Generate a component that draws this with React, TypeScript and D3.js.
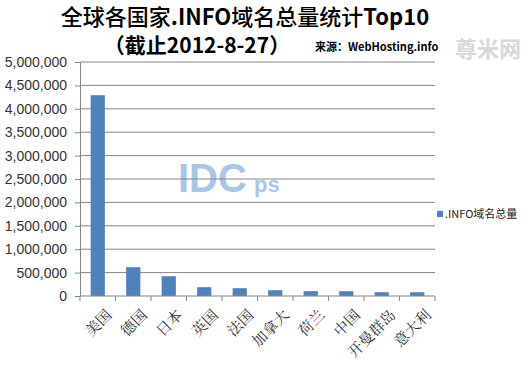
import React, { useEffect, useRef } from "react";
import * as d3 from "d3";

const countries = ["美国", "德国", "日本", "英国", "法国", "加拿大", "荷兰", "中国", "开曼群岛", "意大利"];
const totals = [4290000, 615000, 423000, 188000, 167000, 124000, 103000, 102000, 81000, 80000];
const yTicks = [0, 500000, 1000000, 1500000, 2000000, 2500000, 3000000, 3500000, 4000000, 4500000, 5000000];

export default function App() {
  const svgRef = useRef<SVGSVGElement>(null);

  useEffect(() => {
    if (!svgRef.current) return;
    const svg = d3.select(svgRef.current);
    svg.selectAll("*").remove();

    const left = 80;
    const right = 435;
    const top = 62;
    const bottom = 296;

    const x = d3.scaleBand().domain(countries).range([left, right]).paddingInner(0.6).paddingOuter(0.3);
    const band = d3.scaleBand().domain(countries).range([left, right]);
    const y = d3.scaleLinear().domain([0, 5000000]).range([bottom, top]);

    svg.append("rect").attr("width", 530).attr("height", 366).attr("fill", "#fff");

    // watermarks
    svg.append("text")
      .attr("x", 178).attr("y", 192)
      .attr("font-family", "Arial, Liberation Sans, sans-serif")
      .attr("font-size", 40).attr("font-weight", "bold")
      .attr("fill", "#a9c6e6")
      .text("IDC");
    svg.append("text")
      .attr("x", 254).attr("y", 192)
      .attr("font-family", "Arial, Liberation Sans, sans-serif")
      .attr("font-size", 22).attr("font-weight", "bold")
      .attr("fill", "#a9c6e6")
      .text("ps");
    svg.append("text")
      .attr("x", 455).attr("y", 57)
      .attr("font-family", "Noto Sans CJK SC, sans-serif")
      .attr("font-size", 22).attr("font-weight", "bold")
      .attr("fill", "#d8d8d8")
      .text("尊米网");

    // gridlines
    svg.append("g")
      .selectAll("line")
      .data(yTicks.slice(1))
      .join("line")
      .attr("x1", left).attr("x2", right)
      .attr("y1", (d) => y(d)).attr("y2", (d) => y(d))
      .attr("stroke", "#868686").attr("stroke-width", 1);

    // bars
    svg.append("g")
      .selectAll("rect")
      .data(totals)
      .join("rect")
      .attr("x", (_, i) => x(countries[i])!)
      .attr("width", x.bandwidth())
      .attr("y", (d) => y(d))
      .attr("height", (d) => bottom - y(d))
      .attr("fill", "#4f81bd");

    // y axis
    const yAxis = svg.append("g")
      .attr("transform", `translate(${left},0)`)
      .call(d3.axisLeft(y).tickValues(yTicks).tickSize(5).tickSizeOuter(0).tickFormat((d) => d3.format(",")(d as number)));
    yAxis.select(".domain").attr("stroke", "#868686");
    yAxis.selectAll(".tick line").attr("stroke", "#868686");
    yAxis.selectAll(".tick text")
      .attr("x", -13)
      .attr("font-family", "Arial, Liberation Sans, sans-serif")
      .attr("font-size", 14)
      .attr("fill", "#333");

    // x axis
    const xAxis = svg.append("g")
      .attr("transform", `translate(0,${bottom})`);
    xAxis.append("line")
      .attr("x1", left).attr("x2", right)
      .attr("stroke", "#868686");
    xAxis.selectAll("line.t")
      .data([...countries.map((c) => band(c)!), right])
      .join("line")
      .attr("class", "t")
      .attr("x1", (d) => d).attr("x2", (d) => d)
      .attr("y1", 0).attr("y2", 5)
      .attr("stroke", "#868686");
    xAxis.selectAll("text")
      .data(countries)
      .join("text")
      .attr("transform", (c) => `translate(${band(c)! + band.bandwidth() / 2 + 7},12) rotate(-45)`)
      .attr("text-anchor", "end")
      .attr("dy", "0.75em")
      .attr("font-family", "Noto Serif CJK SC, serif")
      .attr("font-size", 15)
      .attr("fill", "#333")
      .text((c) => c);

    // title
    const t1 = svg.append("text")
      .attr("x", 245).attr("y", 25)
      .attr("text-anchor", "middle")
      .attr("font-family", "Noto Sans CJK SC, sans-serif")
      .attr("font-size", 22)
      .attr("fill", "#000");
    t1.append("tspan").attr("font-weight", 500).text("全球各国家");
    t1.append("tspan").attr("font-weight", "bold").text(".INFO");
    t1.append("tspan").attr("font-weight", 500).text("域名总量统计");
    t1.append("tspan").attr("font-weight", "bold").text("Top10");
    svg.append("text")
      .attr("x", 197).attr("y", 53)
      .attr("text-anchor", "middle")
      .attr("font-family", "Noto Sans CJK SC, sans-serif")
      .attr("font-size", 21).attr("font-weight", "bold")
      .attr("fill", "#000")
      .text("（截止2012-8-27）");
    svg.append("text")
      .attr("x", 315).attr("y", 51)
      .attr("font-family", "Noto Sans CJK SC, sans-serif")
      .attr("font-size", 11).attr("font-weight", "bold")
      .attr("fill", "#000")
      .text("来源：WebHosting.info");

    // legend
    svg.append("rect")
      .attr("x", 437).attr("y", 211).attr("width", 6).attr("height", 6)
      .attr("fill", "#4f81bd");
    svg.append("text")
      .attr("x", 445).attr("y", 218)
      .attr("font-family", "Noto Sans CJK SC, sans-serif")
      .attr("font-size", 11)
      .attr("fill", "#222")
      .text(".INFO域名总量");
  }, []);

  return (
    <div style={{ position: "absolute", left: 0, top: 0 }}>
      <svg ref={svgRef} width={530} height={366} />
    </div>
  );
}
